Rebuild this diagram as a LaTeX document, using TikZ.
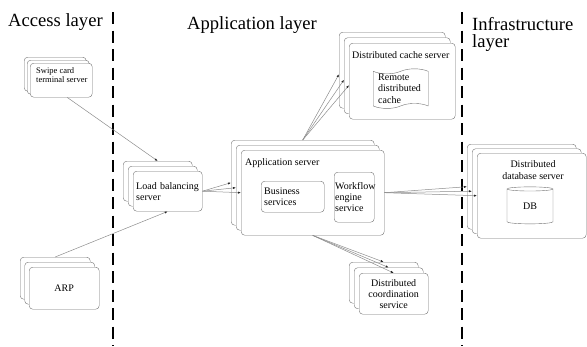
\documentclass[tikz,border=0pt]{standalone}
\usepackage{fontspec}
\setmainfont{LiberationSerif}[Extension=.ttf, UprightFont=*-Regular, BoldFont=*-Bold,
  ItalicFont=*-Italic, BoldItalicFont=*-BoldItalic]
\usetikzlibrary{arrows.meta,shapes.geometric,shapes.symbols}

\tikzset{
  box/.style={draw=black!55, fill=white, rounded corners=3.5pt, anchor=north west,
    inner sep=3pt, font=\rmfamily\fontsize{10}{11}\selectfont},
  heading/.style={inner sep=0pt, font=\rmfamily\fontsize{18.6}{17}\selectfont},
  txt/.style={inner sep=0pt, font=\rmfamily\fontsize{10}{11.5}\selectfont},
  link/.style={draw=black!45, line width=0.5pt,
    -{Latex[length=3pt,width=2.2pt,color=black!85]}},
  layer line/.style={line width=1.4pt, dash pattern=on 12pt off 6.5pt}
}

\begin{document}
\begin{tikzpicture}[x=1pt,y=-1pt]
\useasboundingbox (0,0) rectangle (587,346);

% layer borders and titles
\draw[layer line] (113,12) -- (113,346);
\draw[layer line] (462,12) -- (462,346);
\node[heading, anchor=base west] (access) at (8,26) {Access layer};
\node[heading, anchor=base west] (application) at (187,29) {Application layer};
\node[heading, anchor=west, align=left] (infra) at (472,34) {Infrastructure\\layer};

% access layer
\foreach \i in {2,1}
  \node[box, minimum width=62, minimum height=34] (card\i) at ({30-3*\i},{63-3*\i}) {};
\node[box, minimum width=62, minimum height=34] (card) at (30,63) {};
\node[txt, anchor=west, align=left, font=\rmfamily\fontsize{8.5}{9}\selectfont] (card-t) at (36,75)
  {Swipe card\\terminal server};

\foreach \i in {2,1}
  \node[box, minimum width=70, minimum height=42] (arp\i) at ({29-4.5*\i},{267-5*\i}) {};
\node[box, minimum width=70, minimum height=42, align=center] (arp) at (29,267) {ARP};

% application layer
\foreach \i in {2,1}
  \node[box, minimum width=69, minimum height=40] (lb\i) at ({133-5*\i},{171-5*\i}) {};
\node[box, minimum width=69, minimum height=40, align=left, text width=63] (lb) at (133,171)
  {Load balancing\\server};

\foreach \i in {2,1}
  \node[box, minimum width=143, minimum height=85] (app\i) at ({241-5*\i},{150-5*\i}) {};
\node[box, minimum width=143, minimum height=85] (app) at (241,150) {};
\node[txt, anchor=west] (app-t) at (245,163) {Application server};
\node[box, minimum width=63, minimum height=31, align=left, text width=57] (biz) at (261,181)
  {Business\\services};
\node[box, minimum width=40, minimum height=50, inner xsep=1pt, align=left, text width=38] (flow)
  at (334,172) {Workflow\\engine\\service};

\foreach \i in {2,1}
  \node[box, minimum width=106, minimum height=76] (cache\i) at ({349-5*\i},{43-5.5*\i}) {};
\node[box, minimum width=106, minimum height=76] (cache) at (349,43) {};
\node[txt, anchor=west] (cache-t) at (352,55) {Distributed cache server};
\node[tape, draw=black!55, fill=white, anchor=north west, minimum width=55, minimum height=37,
  tape bend height=5pt, inner xsep=5pt, align=left, text width=45, txt] (remote) at (373,71)
  {Remote\\distributed\\cache};

\foreach \i in {2,1}
  \node[box, minimum width=69, minimum height=41] (coord\i) at ({359-5*\i},{273-5.5*\i}) {};
\node[box, minimum width=69, minimum height=41, align=center] (coord) at (359,273)
  {Distributed\\coordination\\service};

% infrastructure layer
\foreach \i in {2,1}
  \node[box, minimum width=109, minimum height=85] (db\i) at ({477-5*\i},{153-4.5*\i}) {};
\node[box, minimum width=109, minimum height=85] (db) at (477,153) {};
\node[txt, align=center] (db-t) at (533,170) {Distributed\\database server};
\node[cylinder, shape border rotate=90, aspect=0.3, draw=black!55, fill=white,
  minimum width=46, minimum height=37, txt] (store) at (530,206.5) {DB};

% connectors
\draw[link] ([xshift=6pt]card.south) -- (lb2.north);
\draw[link] (arp2.north) -- (lb.south);
\foreach \t in {app2,app1,app}
  \draw[link] (lb.east) -- (\t.west);
\foreach \t in {cache2,cache1,cache}
  \draw[link] (app2.north) -- ([yshift=-4pt]\t.west);
\foreach \t in {db2,db1,db}
  \draw[link] (app.east) -- (\t.west);
\foreach \t in {coord2,coord1,coord}
  \draw[link] (app.south) -- (\t.north);
\end{tikzpicture}
\end{document}
